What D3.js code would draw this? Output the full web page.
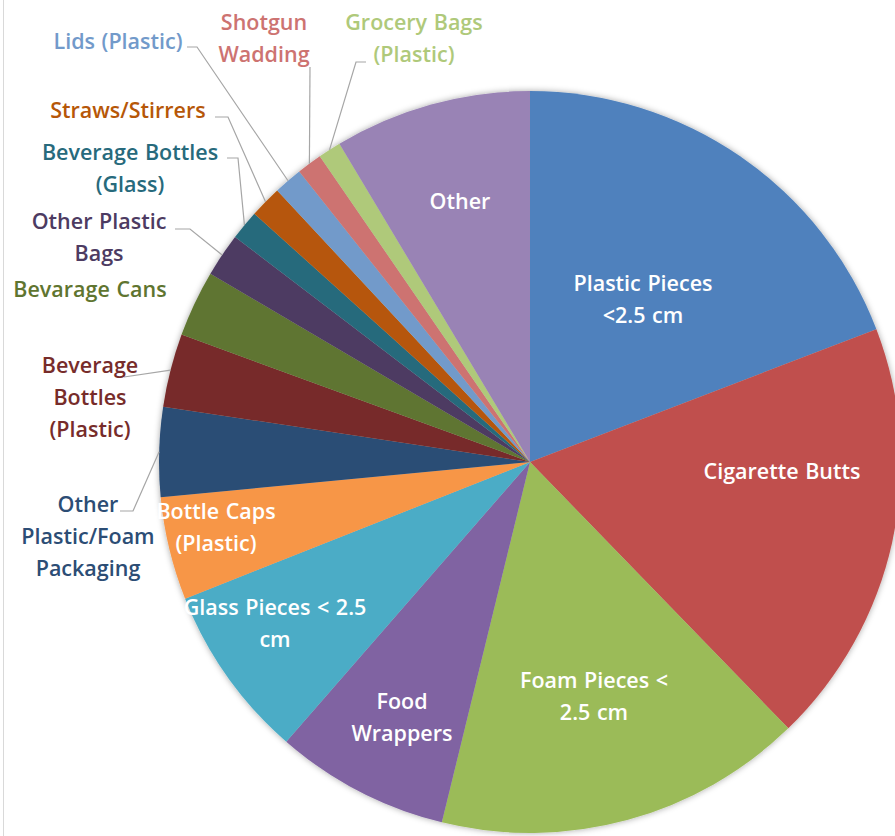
<!DOCTYPE html>
<html>
<head>
<meta charset="utf-8">
<script src="https://cdn.jsdelivr.net/npm/d3@7"></script>
<style>
  body { margin: 0; background: #fff; overflow: hidden; }
  svg text { font-family: "Open Sans", sans-serif; font-weight: 600; font-size: 21.5px; word-spacing: 1px; }
</style>
</head>
<body>
<div id="chart"></div>
<script>
// share of debris items (percent), clockwise from 12 o'clock
const categories = [
  'Plastic Pieces <2.5 cm', 'Cigarette Butts', 'Foam Pieces < 2.5 cm', 'Food Wrappers',
  'Glass Pieces < 2.5 cm', 'Bottle Caps (Plastic)', 'Other Plastic/Foam Packaging',
  'Beverage Bottles (Plastic)', 'Bevarage Cans', 'Other Plastic Bags',
  'Beverage Bottles (Glass)', 'Straws/Stirrers', 'Lids (Plastic)', 'Shotgun Wadding',
  'Grocery Bags (Plastic)', 'Other'
];
const values = [19.2, 18.6, 16.1, 7.6, 7.6, 4.5, 3.9, 3.2, 2.9, 1.9, 1.3, 1.4, 1.25, 1.1, 1.0, 8.6];
const colors = [
  '#4F81BD', '#C0504D', '#9BBB59', '#8064A2', '#4BACC6', '#F79646', '#2C4D75',
  '#772C2A', '#5F7530', '#4D3B62', '#276A7C', '#B65708', '#729ACA', '#CD7371',
  '#AFC97A', '#9983B5'
];
// how each label breaks into lines
const labelLines = [
  ['Plastic Pieces', '<2.5 cm'], ['Cigarette Butts'], ['Foam Pieces <', '2.5 cm'],
  ['Food', 'Wrappers'], ['Glass Pieces < 2.5', 'cm'], ['Bottle Caps', '(Plastic)'],
  ['Other', 'Plastic/Foam', 'Packaging'], ['Beverage', 'Bottles', '(Plastic)'],
  ['Bevarage Cans'], ['Other Plastic', 'Bags'], ['Beverage Bottles', '(Glass)'],
  ['Straws/Stirrers'], ['Lids (Plastic)'], ['Shotgun', 'Wadding'],
  ['Grocery Bags', '(Plastic)'], ['Other']
];

const width = 895, height = 836;
const cx = 530, cy = 462, radius = 371;
const lineH = 32;

// label placement (centre of first line) and leader elbows, page coords
const labelLayout = [
  { inside: true, x: 643, y: 283 },
  { inside: true, x: 782, y: 471 },
  { inside: true, x: 594, y: 680 },
  { inside: true, x: 402, y: 701 },
  { inside: true, x: 275, y: 607 },
  { inside: true, x: 216, y: 511 },
  { inside: false, x: 88, y: 504, leader: [[120, 511], [133, 511]] },
  { inside: false, x: 90, y: 365, leader: [[124, 377]] },
  { inside: false, x: 90, y: 289 },
  { inside: false, x: 99, y: 221, leader: [[175, 229], [190, 229]] },
  { inside: false, x: 130, y: 152, leader: [[227, 158], [238, 158]] },
  { inside: false, x: 128, y: 110, leader: [[215, 117], [228, 117]] },
  { inside: false, x: 118, y: 41, leader: [[187, 47], [197, 47]] },
  { inside: false, x: 264, y: 22, leader: [[310, 67]] },
  { inside: false, x: 414, y: 22, leader: [[366, 62], [356, 62]] },
  { inside: true, x: 460, y: 201 }
];

const data = categories.map((c, i) => ({ name: c, value: values[i], color: colors[i], lines: labelLines[i], layout: labelLayout[i] }));

const svg = d3.select('#chart').append('svg')
  .attr('width', width)
  .attr('height', height);

const defs = svg.append('defs');
const shadow = defs.append('filter').attr('id', 'shadow')
  .attr('x', '-10%').attr('y', '-10%').attr('width', '120%').attr('height', '120%');
shadow.append('feDropShadow')
  .attr('dx', 0).attr('dy', 0).attr('stdDeviation', 3)
  .attr('flood-color', '#000').attr('flood-opacity', 0.35);

// thin frame line on the left
svg.append('line')
  .attr('x1', 3.5).attr('x2', 3.5).attr('y1', 0).attr('y2', height)
  .attr('stroke', '#d9d9d9').attr('stroke-width', 1);

const pie = d3.pie().sort(null).value(d => d.value);
const arc = d3.arc().innerRadius(0).outerRadius(radius);
const arcs = pie(data);

const chart = svg.append('g')
  .attr('transform', `translate(${cx}, ${cy})`);

chart.append('g')
  .attr('filter', 'url(#shadow)')
  .selectAll('path')
  .data(arcs)
  .enter()
  .append('path')
  .attr('d', arc)
  .attr('fill', d => d.data.color);

// leader lines: from label elbow to the slice rim at its mid angle
const rim = d => {
  const a = (d.startAngle + d.endAngle) / 2;
  return [cx + radius * Math.sin(a), cy - radius * Math.cos(a)];
};

svg.append('g').selectAll('polyline')
  .data(arcs.filter(d => d.data.layout.leader))
  .enter()
  .append('polyline')
  .attr('points', d => d.data.layout.leader.concat([rim(d)]).map(p => p.join(',')).join(' '))
  .attr('fill', 'none')
  .attr('stroke', '#a6a6a6')
  .attr('stroke-width', 1.2);

const labels = svg.append('g').selectAll('text')
  .data(arcs)
  .enter()
  .append('text')
  .attr('text-anchor', 'middle')
  .attr('fill', d => d.data.layout.inside ? '#ffffff' : d.data.color);

labels.selectAll('tspan')
  .data(d => d.data.lines.map((t, i) => ({ t, i, l: d.data.layout })))
  .enter()
  .append('tspan')
  .attr('x', d => d.l.x)
  .attr('y', d => d.l.y + d.i * lineH)
  .attr('dy', '0.35em')
  .text(d => d.t);
</script>
</body>
</html>
